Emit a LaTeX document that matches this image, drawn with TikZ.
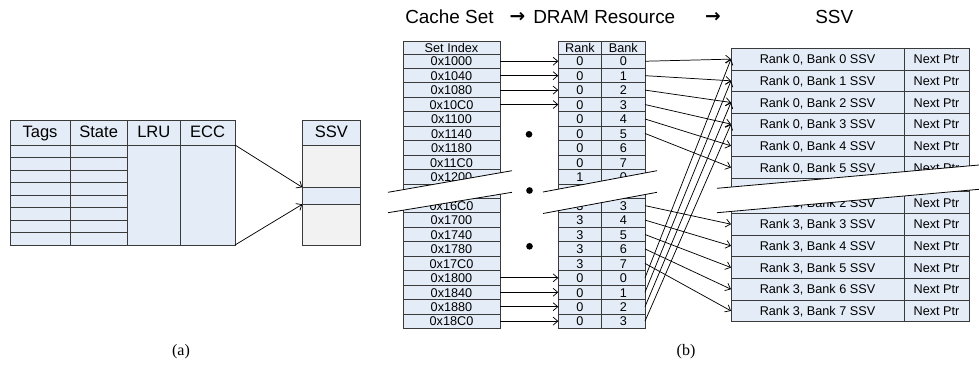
\documentclass[tikz,border=0pt]{standalone}
\usepackage{fontspec}
\setmainfont{Liberation Sans}
\newfontfamily\capserif{Liberation Serif}
\newfontfamily\arrowfont{DejaVu Sans}
\usetikzlibrary{arrows.meta}
\definecolor{cblue}{HTML}{E4ECF7}
\definecolor{cgray}{HTML}{F2F2F2}
\definecolor{cline}{HTML}{3A3A3A}
\begin{document}
\begin{tikzpicture}[x=0.75pt,y=-0.75pt,
  wh/.style 2 args={minimum width=#1*0.75pt, minimum height=#2*0.75pt},
  cell/.style={draw=cline, fill=cblue, line width=0.6pt, inner sep=0pt, outer sep=0pt, text height=0.716em, text depth=0pt},
  graycell/.style={cell, fill=cgray},
  small/.style={font=\fontsize{9.5}{11}\selectfont},
  big/.style={font=\fontsize{12.4}{14}\selectfont},
  titlef/.style={font=\fontsize{14.2}{16}\selectfont, inner sep=0pt},
  titlearrow/.style={font=\arrowfont\bfseries\fontsize{14}{16}\selectfont, inner sep=0pt},
  capn/.style={font=\capserif\fontsize{12}{14}\selectfont, inner sep=0pt},
  arr/.style={draw=black, line width=0.55pt, -{Straight Barb[length=3.5pt,width=6pt]}},
  bandfill/.style={fill=white},
  bandedge/.style={draw=black, line width=0.6pt},
  dotn/.style={circle, fill=black, minimum size=5pt, inner sep=0pt},
]
\useasboundingbox (0,0) rectangle (979,390);

% ---------------- (a) ----------------
\node[cell,big,wh={60}{25}] (tagsh) at (40,132.5) {Tags};
\node[cell,big,wh={57.3}{25}] (stateh) at (98.65,132.5) {State};
\node[cell,big,wh={53}{25}] (lruh) at (153.8,132.5) {LRU};
\node[cell,big,wh={54.7}{25}] (ecch) at (207.65,132.5) {ECC};
\foreach \k in {1,...,8} {
  \node[cell,wh={60}{12.5}] (tag\k) at (40,{145+(\k-0.5)*12.5}) {};
  \node[cell,wh={57.3}{12.5}] (st\k) at (98.65,{145+(\k-0.5)*12.5}) {};
}
\node[cell,wh={53}{100}] (lru) at (153.8,195) {};
\node[cell,wh={54.7}{100}] (ecc) at (207.65,195) {};

\node[cell,big,wh={58}{25}] (svah) at (331.3,132.5) {SSV};
\node[graycell,wh={58}{100}] (svab) at (331.3,195) {};
\node[cell,wh={58}{17}] (svahl) at (331.3,195.8) {};

\draw[arr] (ecc.north east) -- (svahl.north west);
\draw[arr] (ecc.south east) -- (svahl.south west);

% ---------------- (b) title ----------------
\node[titlef, anchor=base west] (t1) at (405,23.5) {Cache Set};
\node[titlearrow] (t2) at (517.5,17) {→};
\node[titlef, anchor=base west] (t3) at (533,23.5) {DRAM Resource};
\node[titlearrow] (t4) at (713,17) {→};
\node[titlef, anchor=base west] (t5) at (815,23.5) {SSV};

% Set Index table
\node[cell,small,wh={97}{12.3}] (si0) at (451.5,47.85) {Set Index};
\foreach \i/\t in {1/0x1000,2/0x1040,3/0x1080,4/0x10C0,5/0x1100,6/0x1140,7/0x1180,8/0x11C0,9/0x1200,11/0x16C0,12/0x1700,13/0x1740,14/0x1780,15/0x17C0,16/0x1800,17/0x1840,18/0x1880,19/0x18C0} {
  \node[cell,small,wh={97}{14.44}] (si\i) at (451.5,{54+(\i-0.5)*14.44}) {\t};
}
\node[cell,small,wh={97}{14.44}] (si10) at (451.5,{54+9.5*14.44}) {};

% Rank / Bank table
\node[cell,small,wh={43.4}{12.3}] (rk0) at (580,47.85) {Rank};
\node[cell,small,wh={43.3}{12.3}] (bk0) at (623.35,47.85) {Bank};
\foreach \i/\r/\b in {1/0/0,2/0/1,3/0/2,4/0/3,5/0/4,6/0/5,7/0/6,8/0/7,9/1/0,11/3/3,12/3/4,13/3/5,14/3/6,15/3/7,16/0/0,17/0/1,18/0/2,19/0/3} {
  \node[cell,small,wh={43.4}{14.44}] (rk\i) at (580,{54+(\i-0.5)*14.44}) {\r};
  \node[cell,small,wh={43.3}{14.44}] (bk\i) at (623.35,{54+(\i-0.5)*14.44}) {\b};
}
\node[cell,small,wh={43.4}{14.44}] (rk10) at (580,{54+9.5*14.44}) {};
\node[cell,small,wh={43.3}{14.44}] (bk10) at (623.35,{54+9.5*14.44}) {};

% SSV table (upper part)
\foreach \k in {1,...,6} {
  \node[cell,small,wh={173}{21.67}] (svu\k) at (817.5,{48.3+(\k-0.5)*21.67}) {Rank 0, Bank \the\numexpr\k-1\relax\ SSV};
  \node[cell,small,wh={65}{21.67}] (npu\k) at (936.5,{48.3+(\k-0.5)*21.67}) {Next Ptr};
}
\node[cell,small,wh={173}{13.4}] (svu7) at (817.5,185) {};
\node[cell,small,wh={65}{13.4}] (npu7) at (936.5,185) {};
% SSV table (lower part)
\foreach \j in {2,...,7} {
  \node[cell,small,wh={173}{21.67}] (svl\j) at (817.5,{191.7+(\j-1.5)*21.67}) {Rank 3, Bank \j\ SSV};
  \node[cell,small,wh={65}{21.67}] (npl\j) at (936.5,{191.7+(\j-1.5)*21.67}) {Next Ptr};
}

% arrows Set Index -> Rank
\foreach \i in {1,2,3,4,16,17,18,19} {
  \draw[arr] (si\i.east) -- (rk\i.west);
}
% arrows Bank -> SSV
\foreach \i in {1,...,6} {
  \draw[arr] (bk\i.east) -- (svu\i.west);
}
\foreach \i/\k in {16/1,17/2,18/3,19/4} {
  \draw[arr] (bk\i.east) -- (svu\k.west);
}
\foreach \i/\j in {11/3,12/4,13/5,14/6,15/7} {
  \draw[arr] (bk\i.east) -- (svl\j.west);
}

% break bands
\fill[bandfill] (388,192.3) -- (512,170.7) -- (512,192.3) -- (388,212.7) -- cycle;
\draw[bandedge] (388,192.3) -- (512,170.7);
\draw[bandedge] (388,212.7) -- (512,192.3);
\fill[bandfill] (543,192) -- (657,170.7) -- (657,192.3) -- (543,213.5) -- cycle;
\draw[bandedge] (543,192) -- (657,170.7);
\draw[bandedge] (543,213.5) -- (657,192.3);
\fill[bandfill] (717,188.3) -- (979,165) -- (979,189.3) -- (717,212.7) -- cycle;
\draw[bandedge] (717,188.3) -- (979,165);
\draw[bandedge] (717,212.7) -- (979,189.3);

% dots
\node[dotn] (dot1) at (529,134.3) {};
\node[dotn] (dot2) at (529.5,190.5) {};
\node[dotn] (dot3) at (529.5,246.3) {};

% captions
\node[capn] (capa) at (181,352) {(a)};
\node[capn] (capb) at (686,352) {(b)};
\end{tikzpicture}
\end{document}
